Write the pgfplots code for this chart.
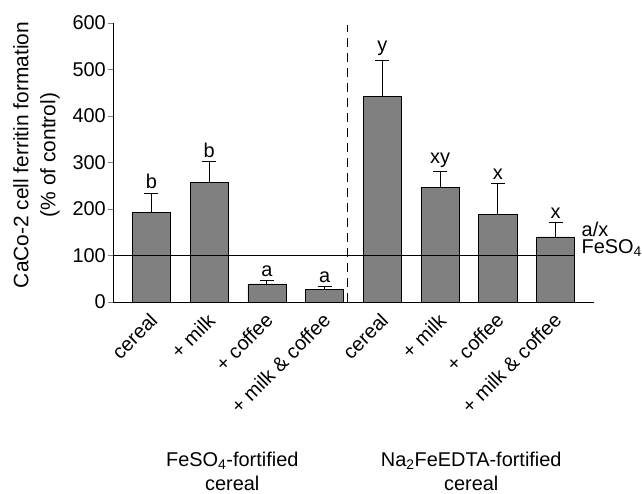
\documentclass[border=0pt]{standalone}
\usepackage{fontspec}
\setmainfont{Liberation Sans}
\usepackage{pgfplots}
\pgfplotsset{compat=1.18}
\pgfplotsset{/pgf/number format/assume math mode=true}
\begin{document}
\begin{tikzpicture}
\path[use as bounding box] (-113bp,-192bp) rectangle (529bp,302bp);
\begin{axis}[
  scale only axis,
  width=481bp, height=279bp,
  xmin=-0.667, xmax=7.667,
  ymin=0, ymax=600,
  axis x line=bottom, axis y line=left,
  axis line style={-, line width=0.8pt},
  ytick={0,100,...,600},
  tick align=outside,
  major tick length=5bp,
  ytick style={line width=0.8pt},
  xtick={0,...,7},
  xticklabels={cereal,+ milk,+ coffee,+ milk \& coffee,cereal,+ milk,+ coffee,+ milk \& coffee},
  xtick style={draw=none},
  tick label style={font=\fontsize{20}{24}\selectfont},
  xticklabel style={xshift=3bp, yshift=-9bp, rotate=45, anchor=east, inner sep=1bp},
  yticklabel style={inner sep=2bp},
  ylabel={CaCo-2 cell ferritin formation\\(\% of control)},
  ylabel style={font=\fontsize{21}{27}\selectfont, align=center, at={(axis description cs:-0.159,0.527)}, anchor=center, rotate=0},
  clip=false,
]
\addplot[ybar, bar width=0.66, fill=black!50, draw=black, line width=0.6pt,
  error bars/.cd, y dir=plus, y explicit, error mark=-,
  error bar style={line width=1pt, black},
  error mark options={rotate=90, line width=1pt, mark size=7bp, black}]
  table[x=x, y=y, y error=e] {
x y e
0 193 41
1 258 44
2 39 7
3 27 6
4 442 78
5 246 35
6 188 67
7 140 30
};
\addplot[only marks, mark=none, nodes near coords, point meta=explicit symbolic,
  every node near coord/.style={font=\fontsize{20}{24}\selectfont, anchor=south, inner sep=2bp, yshift=2bp}]
  table[x=x, y=y, meta=lab] {
x y lab
0 234 b
1 302 b
2 46 a
3 33 a
4 520 y
5 281 xy
6 255 x
7 170 x
};
\addplot[black, line width=1.6pt] coordinates {(-0.667,100) (7.33,100)};
\addplot[black, line width=1pt, dash pattern=on 9bp off 6bp] coordinates {(3.4,0) (3.4,596)};
\node[anchor=west, font=\fontsize{20}{24}\selectfont, inner sep=0pt] at (axis cs:7.45,157) {a/x};
\node[anchor=west, font=\fontsize{20}{24}\selectfont, inner sep=0pt] at (axis cs:7.45,116) {FeSO\textsubscript{4}};
\node[align=center, font=\fontsize{20}{24}\selectfont, inner sep=0pt] at ([yshift=-169bp]axis cs:1.4,0) {FeSO\textsubscript{4}-fortified\\cereal};
\node[align=center, font=\fontsize{20}{24}\selectfont, inner sep=0pt] at ([yshift=-169bp]axis cs:5.54,0) {Na\textsubscript{2}FeEDTA-fortified\\cereal};
\end{axis}
\end{tikzpicture}
\end{document}
